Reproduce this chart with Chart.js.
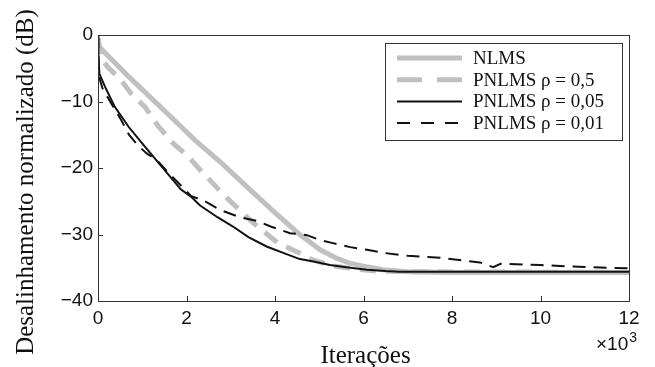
<!DOCTYPE html>
<html>
<head>
<meta charset="utf-8">
<script src="https://cdn.jsdelivr.net/npm/chart.js@4.4.1/dist/chart.umd.min.js"></script>
<style>
  html, body { margin: 0; background: #fff; }
  canvas { display: block; }
</style>
</head>
<body>
<canvas id="chart" width="655" height="367"></canvas>
<script>
/* ── Data (iterations in thousands, misalignment in dB) ── */
const seriesNames = ['NLMS', 'PNLMS ρ = 0,5', 'PNLMS ρ = 0,05', 'PNLMS ρ = 0,01'];

const nlmsX = [0, 0.03, 0.7, 1.44, 1.85, 2.19, 2.8, 3.36, 4.0, 4.56, 5.02, 5.4, 5.69, 6.1, 6.44, 6.98, 8, 10, 12];
const nlmsY = [-0.5, -1.8, -6.3, -11.0, -13.6, -15.8, -19.3, -22.8, -26.7, -30.0, -32.3, -33.6, -34.3, -34.9, -35.3, -35.6, -35.7, -35.7, -35.7];

const p05X = [0, 0.05, 0.23, 0.5, 0.76, 1.06, 1.36, 1.7, 2.0, 2.38, 2.88, 3.5, 4.05, 4.56, 4.84, 5.3, 5.8, 6.3, 7, 12];
const p05Y = [-0.5, -3.3, -4.9, -6.6, -8.9, -10.8, -13.7, -16.3, -18.0, -20.8, -24.3, -28.2, -31.2, -32.8, -33.8, -34.7, -35.2, -35.5, -35.6, -35.7];

const p005X = [0, 0.01, 0.03, 0.16, 0.38, 0.69, 1.06, 1.44, 1.87, 2.1, 2.3, 2.7, 3.05, 3.4, 3.81, 4.2, 4.56, 4.9, 5.24, 5.7, 6.08, 6.5, 6.82, 12];
const p005Y = [0, -3, -5.8, -7.8, -10.8, -13.8, -16.8, -19.8, -23.2, -24.3, -25.6, -27.4, -28.8, -30.4, -31.8, -32.8, -33.7, -34.1, -34.6, -35.0, -35.3, -35.5, -35.6, -35.6];

const p001X = [0, 0.02, 0.1, 0.3, 0.5, 0.7, 0.9, 1.1, 1.33, 1.6, 1.9, 2.1, 2.42, 2.76, 3.2, 3.62, 3.9, 4.34, 4.72, 5.0, 5.31, 5.7, 6.08, 6.5, 7.0, 7.73, 8.63, 8.93, 9.1, 10, 11, 12];
const p001Y = [0, -6.2, -8.0, -10.3, -12.5, -15.0, -16.6, -17.8, -18.8, -20.8, -22.8, -24.2, -25.0, -26.3, -27.4, -28.0, -28.8, -29.8, -30.1, -30.8, -31.3, -31.9, -32.3, -32.8, -33.2, -33.5, -34.2, -34.9, -34.4, -34.6, -34.9, -35.1];

const xTicks = [0, 2, 4, 6, 8, 10, 12];
const yTicks = [-40, -30, -20, -10, 0];

/* ── Styles ── */
const GRAY = '#c0c0c0', INK = '#111', AXIS = '#333';
const SERIF = '"Liberation Serif", "Times New Roman", serif';
const SANS  = '"Liberation Sans", Arial, sans-serif';

const pts = (xs, ys) => xs.map((x, i) => ({ x, y: ys[i] }));

const datasets = [
  { label: seriesNames[0], data: pts(nlmsX, nlmsY), borderColor: GRAY, borderWidth: 5, order: 4, legendDash: [] },
  { label: seriesNames[1], data: pts(p05X, p05Y),   borderColor: GRAY, borderWidth: 5, borderDash: [16, 10], order: 3, legendDash: [25, 15] },
  { label: seriesNames[2], data: pts(p005X, p005Y), borderColor: INK,  borderWidth: 2, order: 1, legendDash: [] },
  { label: seriesNames[3], data: pts(p001X, p001Y), borderColor: INK,  borderWidth: 2, borderDash: [13, 8], order: 2, legendDash: [13, 11] }
].map(d => Object.assign({ pointRadius: 0, tension: 0, fill: false }, d));

/* ── Frame, inward ticks, titles, legend ── */
const decor = {
  id: 'decor',
  afterDraw(chart) {
    const { ctx, chartArea: a, scales } = chart;
    ctx.save();
    // frame
    ctx.strokeStyle = AXIS; ctx.lineWidth = 1; ctx.setLineDash([]);
    ctx.strokeRect(Math.round(a.left) + 0.5, Math.round(a.top) + 0.5, Math.round(a.right - a.left), Math.round(a.bottom - a.top));
    // inward ticks
    ctx.beginPath();
    xTicks.forEach(v => { const x = Math.round(scales.x.getPixelForValue(v)) + 0.5; ctx.moveTo(x, a.bottom); ctx.lineTo(x, a.bottom - 5); });
    yTicks.forEach(v => { const y = Math.round(scales.y.getPixelForValue(v)) + 0.5; ctx.moveTo(a.left, y); ctx.lineTo(a.left + 5, y); });
    ctx.stroke();

    // axis titles
    ctx.fillStyle = INK;
    ctx.font = '25px ' + SERIF;
    ctx.textAlign = 'center'; ctx.textBaseline = 'alphabetic';
    ctx.fillText('Iterações', (a.left + a.right) / 2 + 2, 363);
    ctx.save();
    ctx.translate(33, 182);
    ctx.rotate(-Math.PI / 2);
    ctx.fillText('Desalinhamento normalizado (dB)', 0, 0);
    ctx.restore();

    // ×10^3 exponent
    ctx.textAlign = 'left';
    ctx.font = '19px ' + SANS;
    ctx.fillText('×10', 596, 350);
    const w = ctx.measureText('×10').width;
    ctx.font = '14px ' + SANS;
    ctx.fillText('3', 596 + w + 1, 342);

    // legend
    const box = { l: 385, t: 43, r: 622, b: 140 };
    ctx.fillStyle = '#fff';
    ctx.fillRect(box.l, box.t, box.r - box.l, box.b - box.t);
    ctx.strokeStyle = AXIS; ctx.lineWidth = 1;
    ctx.strokeRect(box.l + 0.5, box.t + 0.5, box.r - box.l, box.b - box.t);
    ctx.font = '19px ' + SERIF;
    ctx.textBaseline = 'middle';
    chart.data.datasets.forEach((d, i) => {
      const y = 58 + i * 21.7;
      ctx.strokeStyle = d.borderColor; ctx.lineWidth = d.borderWidth;
      ctx.setLineDash(d.legendDash); ctx.lineCap = 'butt';
      ctx.beginPath(); ctx.moveTo(397, y); ctx.lineTo(462, y); ctx.stroke();
      ctx.setLineDash([]);
      ctx.fillStyle = INK;
      ctx.fillText(d.label, 473, y + 1);
    });
    ctx.restore();
  }
};

/* ── Chart ── */
new Chart(document.getElementById('chart'), {
  type: 'line',
  data: { datasets },
  plugins: [decor],
  options: {
    responsive: false,
    animation: false,
    devicePixelRatio: 1,
    layout: { padding: { top: 35, right: 26, left: 0, bottom: 0 } },
    plugins: { legend: { display: false }, tooltip: { enabled: false } },
    scales: {
      x: {
        type: 'linear', min: 0, max: 12,
        afterBuildTicks: s => { s.ticks = xTicks.map(value => ({ value })); },
        afterFit: s => { s.height = 66; },
        grid: { display: false, drawTicks: false },
        border: { display: false },
        ticks: { color: INK, font: { family: SANS, size: 19 }, padding: 6, maxRotation: 0 }
      },
      y: {
        type: 'linear', min: -40, max: 0,
        afterBuildTicks: s => { s.ticks = yTicks.map(value => ({ value })); },
        afterFit: s => { s.width = 98; },
        grid: { display: false, drawTicks: false },
        border: { display: false },
        ticks: { color: INK, font: { family: SANS, size: 19 }, padding: 5,
                 callback: v => v < 0 ? '\u2212' + Math.abs(v) : String(v) }
      }
    }
  }
});
</script>
</body>
</html>
